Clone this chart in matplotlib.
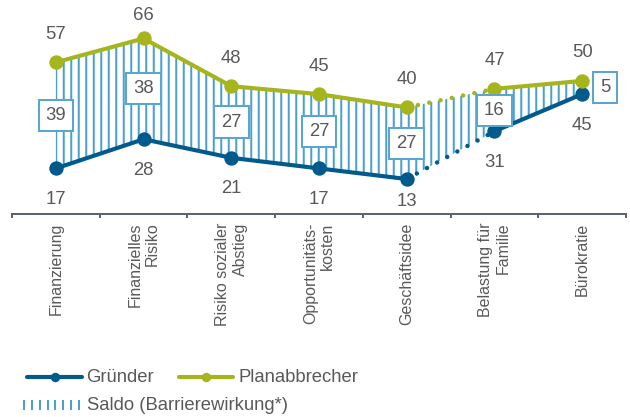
import matplotlib
matplotlib.use("Agg")
import matplotlib.pyplot as plt
from matplotlib.lines import Line2D
import numpy as np

# ---- data ----
categories = ["Finanzierung", "Finanzielles\nRisiko", "Risiko sozialer\nAbstieg",
              "Opportunitäts-\nkosten", "Geschäftsidee", "Belastung für\nFamilie", "Bürokratie"]
gruender = [17, 28, 21, 17, 13, 31, 45]
planabbrecher = [57, 66, 48, 45, 40, 47, 50]
saldo = [39, 38, 27, 27, 27, 16, 5]
legend_labels = ["Gründer", "Planabbrecher", "Saldo (Barrierewirkung*)"]

# ---- style ----
C_G = "#005a8c"
C_P = "#a6b51b"
C_H = "#4ba0cd"
C_BOX = "#5aa6d2"
C_TXT = "#595959"
C_AX = "#5b646b"
plt.rcParams["font.family"] = ["Liberation Sans", "DejaVu Sans"]
plt.rcParams["hatch.linewidth"] = 1.6

W, H, DPI = 630, 417, 90
fig = plt.figure(figsize=(W / DPI, H / DPI), dpi=DPI)
ax_top, ax_bot = 0.0, 213.5
ax = fig.add_axes([12 / W, 1 - ax_bot / H, 614 / W, (ax_bot - ax_top) / H])
ax.set_xlim(-0.5, len(categories) - 0.5)
ax.set_ylim(0, 80.5)
ax.patch.set_alpha(0)

x = np.arange(len(categories))
gap = 4  # dotted segment between category gap and gap+1

# hatched saldo area
ax.fill_between(x, gruender, planabbrecher, facecolor="none", edgecolor=C_H,
                hatch="||", linewidth=0, zorder=1)

for vals, col in ((gruender, C_G), (planabbrecher, C_P)):
    ax.plot(x[:gap + 1], vals[:gap + 1], color=col, lw=3.3, solid_capstyle="round", zorder=3)
    ax.plot(x[gap + 1:], vals[gap + 1:], color=col, lw=3.3, solid_capstyle="round", zorder=3)
    ax.plot(x[gap:gap + 2], vals[gap:gap + 2], color=col, lw=3.6, linestyle=(0, (0.01, 2.55)),
            dash_capstyle="round", zorder=3)
    ax.plot(x, vals, linestyle="none", marker="o", ms=10.5, color=col, zorder=4)

# value labels
FS = 14.8
for xi, g, p in zip(x, gruender, planabbrecher):
    ax.text(xi, min(p + 10.6, 74.6), str(p), ha="center", va="center", fontsize=FS, color=C_TXT)
    ax.text(xi, max(g - 11.7, 4.7), str(g), ha="center", va="center", fontsize=FS, color=C_TXT)

# saldo boxes
for xi, g, p, s in zip(x, gruender, planabbrecher, saldo):
    bx = xi + (0.26 if s < 10 else 0)
    ax.text(bx, (g + p) / 2, str(s), ha="center", va="center", fontsize=FS, color=C_TXT,
            zorder=5, bbox=dict(boxstyle="square,pad=0.38", fc="white", ec=C_BOX, lw=1.6))

# axes styling
for s in ("left", "right", "top"):
    ax.spines[s].set_visible(False)
ax.spines["bottom"].set_color(C_AX)
ax.spines["bottom"].set_linewidth(1.6)
ax.set_yticks([])
ax.set_xticks(x)
ax.set_xticklabels(categories, rotation=90, fontsize=12.8, color=C_TXT)
for lbl in ax.get_xticklabels():
    lbl.set_multialignment("right")
ax.tick_params(axis="x", which="major", length=0, pad=7.2)
ax.set_xticks(np.arange(len(categories) + 1) - 0.5, minor=True)
ax.tick_params(axis="x", which="minor", length=3.2, width=1.6, color=C_AX, direction="out")

# legend (manual)
def fx(px):
    return px / W

def fy(py):
    return 1 - py / H

tf = fig.transFigure
for (x0, x1, tx), col, lab in (((27, 82, 86), C_G, legend_labels[0]),
                               ((179, 233, 238), C_P, legend_labels[1])):
    fig.add_artist(Line2D([fx(x0), fx(x1)], [fy(377), fy(377)], transform=tf, color=col,
                          lw=3.3, solid_capstyle="round"))
    fig.add_artist(Line2D([fx((x0 + x1) / 2)], [fy(377)], transform=tf, color=col,
                          marker="o", ms=6.5, linestyle="none"))
    fig.text(fx(tx), fy(377), lab, ha="left", va="center", fontsize=FS, color=C_TXT)

for i in range(8):
    xx = fx(24 + i * 55 / 7)
    fig.add_artist(Line2D([xx, xx], [fy(401), fy(409)], transform=tf, color=C_H, lw=1.6))
fig.text(fx(87), fy(405), legend_labels[2], ha="left", va="center", fontsize=FS, color=C_TXT)

fig.savefig("out.png", dpi=DPI)
